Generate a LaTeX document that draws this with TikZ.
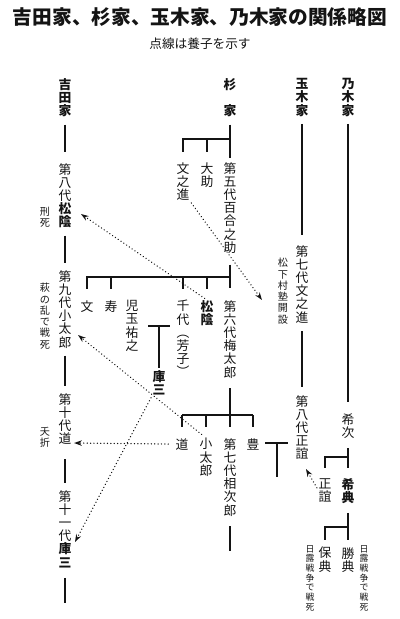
\documentclass[tikz,border=0pt]{standalone}
\usepackage{fontspec}
\setmainfont{Noto Sans CJK JP}
\usetikzlibrary{arrows.meta}
\definecolor{ink}{HTML}{141414}

% 縦書き: 一字ずつ改行
\newcommand\tatefont{}
\newcommand\tate[2][]{\gdef\tatefont{#1}\tateA#2\relax}
\def\tateA#1#2{{\tatefont#1}\ifx#2\relax\else\\\expandafter\tateA\expandafter#2\fi}

\tikzset{
  tatebox/.style={inner sep=0pt,anchor=north,align=center,text=ink,font=\fontsize{9.1}{9.4}\selectfont},
  headbox/.style={tatebox,font=\fontsize{9.1}{9.5}\selectfont\bfseries},
  notebox/.style={tatebox,font=\fontsize{7.2}{8}\selectfont},
  tinybox/.style={tatebox,font=\fontsize{6.3}{6.9}\selectfont},
  link/.style={draw=ink,line width=0.8pt,shorten <=5pt,shorten >=5pt},
  drop/.style={draw=ink,line width=0.8pt},
  adopt/.style={draw=ink,line width=0.95pt,line cap=round,dash pattern=on 0.1pt off 2.3pt,
    -{Stealth[length=5.5pt,width=3.8pt]},shorten <=2pt},
}

\begin{document}
\begin{tikzpicture}[x=0.025cm,y=-0.025cm]
    \useasboundingbox (0,0) rectangle (400,619);
    % 表題
    \node[font=\fontsize{14}{14}\selectfont\bfseries,text=ink] (title) at (200,17) {吉田家、杉家、玉木家、乃木家の関係略図};
    \node[font=\fontsize{9}{9}\selectfont,text=ink] (sub) at (200,44) {点線は養子を示す};
    % 家名
    \node[headbox] (hA) at (65,78) {\tate{吉田家}};
    \node[headbox] (hB) at (230,78) {\tate{杉　家}};
    \node[headbox] (hC) at (302,78) {\tate{玉木家}};
    \node[headbox] (hD) at (348,78) {\tate{乃木家}};
    % 吉田家
    \node[tatebox] (a8) at (65,163) {\tate{第八代}\\\tate[\bfseries]{松陰}};
    \node[notebox] (a8n) at (45,207) {\tate{刑死}};
    \node[tatebox] (a9) at (65,270) {\tate{第九代小太郎}};
    \node[notebox] (a9n) at (45,283) {\tate{萩の乱で戦死}};
    \node[tatebox] (a10) at (65,393) {\tate{第十代道}};
    \node[notebox] (a10n) at (45,427) {\tate{夭折}};
    \node[tatebox] (a11) at (65,490) {\tate{第十一代}\\\tate[\bfseries]{庫三}};
    \draw[link,shorten >=7.5pt] (hA) -- (a8);
    \draw[link] (a8) -- (a9);
    \draw[link] (a9) -- (a10);
    \draw[link,shorten <=10pt] (a10) -- (a11);
    \draw[drop] ([yshift=-7pt]a11.south) -- ++(0,25);
    % 杉家
    \coordinate (s1) at (230,139);
    \node[tatebox] (yur) at (230,162) {\tate{第五代百合之助}};
    \node[tatebox] (bun) at (183,162) {\tate{文之進}};
    \node[tatebox] (dai) at (207,162) {\tate{大助}};
    \draw[link,shorten >=3pt] (hB) -- (yur);
    \draw[drop] (s1) -| ([yshift=7pt]bun.north);
    \draw[drop] (dai.north |- s1) -- ([yshift=7pt]dai.north);
    % 第六代の代
    \coordinate (s2) at (230,277);
    \node[tatebox] (fumi) at (87,300) {文};
    \node[tatebox] (kotobuki) at (111,300) {寿};
    \node[tatebox] (kodama) at (132,300) {\tate{児玉祐之}};
    \node[tatebox] (chiyo) at (183,300) {\tate{千代︵芳子︶}};
    \node[tatebox] (shoin) at (207,300) {\tate[\bfseries]{松陰}};
    \node[tatebox] (ume) at (230,300) {\tate{第六代梅太郎}};
    \draw[link,shorten <=7.8pt,shorten >=8.5pt] (yur) -- (ume);
    \draw[drop] (s2) -| ([yshift=8pt]fumi.north);
    \draw[drop] (kotobuki.north |- s2) -- ([yshift=8pt]kotobuki.north);
    \draw[drop] (chiyo.north |- s2) -- ([yshift=8pt]chiyo.north);
    \draw[drop] (shoin.north |- s2) -- ([yshift=8pt]shoin.north);
    \coordinate (k1) at (148,326);
    \coordinate (k2) at (170,326);
    \node[tatebox] (kurazo) at (159,370) {\tate[\bfseries]{庫三}};
    \draw[drop] (k1) -- (k2);
    \draw[drop] (kurazo.north |- k1) -- ([yshift=1.5pt]kurazo.north);
    % 第七代の代
    \coordinate (s3) at (230,415);
    \node[tatebox] (michi) at (182,438) {道};
    \node[tatebox] (kotaro) at (206,438) {\tate{小太郎}};
    \node[tatebox] (soji) at (230,438) {\tate{第七代相次郎}};
    \node[tatebox] (yutaka) at (253,438) {豊};
    \draw[link,shorten <=7pt,shorten >=8pt] (ume) -- (soji);
    \draw[drop] (michi.north |- s3) -- (yutaka.north |- s3);
    \draw[drop] (michi.north |- s3) -- ([yshift=8pt]michi.north);
    \draw[drop] (kotaro.north |- s3) -- ([yshift=8pt]kotaro.north);
    \draw[drop] (yutaka.north |- s3) -- ([yshift=8pt]yutaka.north);
    \draw[drop] ([yshift=-7pt]soji.south) -- ++(0,25);
    \coordinate (y1) at (265,443);
    \coordinate (y2) at (288,443);
    \coordinate (y3) at (277,477);
    \draw[drop] (y1) -- (y2);
    \draw[drop] (y3 |- y1) -- (y3);
    % 玉木家
    \node[tatebox] (bunC) at (302,245) {\tate{第七代文之進}};
    \node[notebox] (sonjuku) at (283,258) {\tate{松下村塾開設}};
    \node[tatebox] (masa8) at (302,395) {\tate{第八代正誼}};
    \draw[link,shorten >=7pt] (hC) -- (bunC);
    \draw[link,shorten <=5.7pt,shorten >=5.7pt] (bunC) -- (masa8);
    % 乃木家
    \node[tatebox] (mare) at (348,413) {\tate{希次}};
    \node[tatebox] (masaD) at (325,478) {\tate{正誼}};
    \node[tatebox] (maresuke) at (348,478) {\tate[\bfseries]{希典}};
    \node[tatebox] (yasu) at (325,547) {\tate{保典}};
    \node[tatebox] (katsu) at (348,547) {\tate{勝典}};
    \node[tinybox] (nichiL) at (310,545) {\tate{日露戦争で戦死}};
    \node[tinybox] (nichiR) at (364,545) {\tate{日露戦争で戦死}};
    \coordinate (n1) at (348,457);
    \coordinate (n2) at (348,527);
    \draw[link,shorten >=7.8pt] (hD) -- (mare);
    \draw[drop] ([yshift=-7pt]mare.south) -- ([yshift=7pt]maresuke.north);
    \draw[drop] (n1) -| ([yshift=7pt]masaD.north);
    \draw[drop] ([yshift=-6.4pt]maresuke.south) -- ([yshift=5pt]katsu.north);
    \draw[drop] (n2) -| ([yshift=5pt]yasu.north);
    % 養子
    \coordinate (t1) at (262,300);
    \coordinate (t2) at (81,214);
    \coordinate (t3) at (78,335);
    \coordinate (t4) at (75,542);
    \coordinate (t5) at (74,443);
    \coordinate (t6) at (306,469);
    \draw[adopt] (bun.south east) -- (t1);
    \draw[adopt] (shoin.north) -- (t2);
    \draw[adopt,shorten <=4pt] (kotaro.north) -- (t3);
    \draw[adopt] (kurazo.south west) -- (t4);
    \draw[adopt,shorten <=5pt] (michi.west) -- (t5);
    \draw[adopt] (masaD.west) -- (t6);
\end{tikzpicture}
\end{document}
